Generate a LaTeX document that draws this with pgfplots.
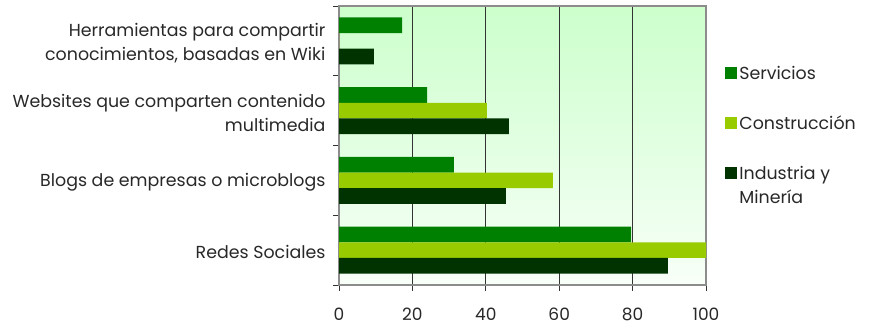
\documentclass[border=0pt]{standalone}
\usepackage{pgfplots}
\pgfplotsset{compat=1.18}
\usepackage{fontspec}
\setmainfont{Poppins}
\definecolor{serv}{RGB}{0,128,0}
\definecolor{cons}{RGB}{153,204,0}
\definecolor{indu}{RGB}{0,51,0}
\definecolor{bgtop}{RGB}{204,255,204}
\definecolor{bgbot}{RGB}{248,255,248}
\definecolor{txt}{RGB}{40,40,40}
\pgfplotsset{shiftedimg/.style={legend image code/.code={\fill[##1] (0pt,6pt) rectangle (12pt,18pt);}}}
\begin{document}
\begin{tikzpicture}
\useasboundingbox (0,0) rectangle (872pt,329pt);
\begin{axis}[
  at={(339pt,44pt)}, anchor=south west,
  scale only axis, width=367pt, height=279pt,
  xbar, bar width=15.7pt,
  xmin=0, xmax=100, ymin=-0.5, ymax=3.5,
  xtick={0,20,40,60,80,100},
  ytick={0,1,2,3},
  yticklabels={Redes Sociales, Blogs de empresas o microblogs, {Websites que comparten contenido\\multimedia}, {Herramientas para compartir\\conocimientos, basadas en Wiki}},
  minor ytick={-0.5,0.5,1.5,2.5,3.5},
  xtick pos=bottom, ytick pos=left,
  major tick length=6pt,
  minor tick length=6pt,
  tick align=outside,
  every major y tick/.style={draw=none},
  tick style={draw=black!80, line width=0.8pt},
  xmajorgrids, major grid style={draw=black!80, line width=0.8pt},
  axis line style={draw=gray!90, line width=1.2pt},
  axis background/.style={shade, top color=bgtop, bottom color=bgbot},
  yticklabel style={align=right, text=txt, font=\fontsize{17.4}{24}\selectfont, xshift=-4pt, yshift=-2pt},
  xticklabel style={text=txt, font=\fontsize{17}{20}\selectfont, yshift=-13pt},
  /pgf/number format/assume math mode=true,
  legend style={draw=none, fill=none, at={(1.044,0.80)}, anchor=north west,
    font=\fontsize{17.4}{24}\selectfont, text=txt, row sep=31pt, nodes={align=left, inner xsep=2pt}},
  legend cell align=left,
  area legend,
  legend image code/.code={\fill[#1] (0pt,-6pt) rectangle (12pt,6pt);},
]
\addplot[fill=serv, draw=none, bar shift=15.7pt] coordinates {(79.6,0) (31.3,1) (24.0,2) (17.2,3)};
\addlegendentry{Servicios}
\addplot[fill=cons, draw=none, bar shift=0pt] coordinates {(100,0) (58.3,1) (40.3,2) (0,3)};
\addlegendentry{Construcción}
\addplot[fill=indu, draw=none, bar shift=-15.7pt, shiftedimg] coordinates {(89.6,0) (45.5,1) (46.3,2) (9.5,3)};
\addlegendentry{Industria y\\Minería}
\end{axis}
\end{tikzpicture}
\end{document}
